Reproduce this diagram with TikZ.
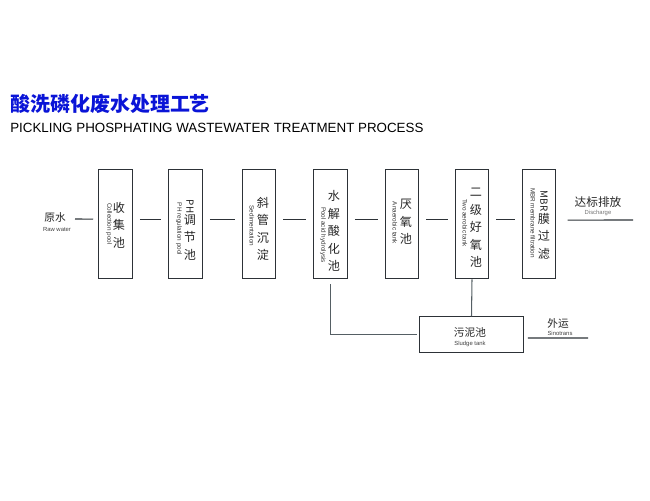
\documentclass[tikz,border=0pt]{standalone}
\usepackage{fontspec}
\setmainfont{Liberation Sans}
\newfontfamily\cjk{Noto Sans CJK SC}
\definecolor{titleblue}{RGB}{10,20,215}
\definecolor{boxline}{RGB}{45,50,55}
\definecolor{pipeline}{RGB}{85,95,100}
\tikzstyle{tank} = [draw=boxline,line width=0.75pt,minimum width=0.84cm,minimum height=2.74cm,inner sep=0pt]
\tikzstyle{sludgetank} = [draw=boxline,line width=0.75pt,minimum width=2.58cm,minimum height=0.88cm,inner sep=0pt]
\tikzstyle{cnlabel} = [inner sep=0pt,align=center,font=\cjk\fontsize{8.6}{12.4}\selectfont,text=black!85]
\tikzstyle{sidelabel} = [inner sep=0pt,align=center,font=\cjk\fontsize{7.6}{9}\selectfont,text=black!85]
\tikzstyle{enlabel} = [inner sep=0pt,font=\fontsize{4.5}{5}\selectfont,text=black!80,rotate=-90]
\tikzstyle{smalllabel} = [inner sep=0pt,font=\fontsize{4.2}{5}\selectfont,text=black!75]
\tikzstyle{link} = [draw=boxline,line width=0.75pt,shorten <=5pt,shorten >=5pt]
\tikzstyle{drain} = [draw=pipeline,line width=0.75pt]
\newcommand{\sidetext}[1]{\rotatebox{-90}{\fontsize{7}{8}\selectfont #1}}
\begin{document}
\begin{tikzpicture}[x=0.025cm,y=-0.025cm]
	\useasboundingbox (0,0) rectangle (650,500);
	
	\node[inner sep=0pt,anchor=west,text=titleblue,font=\cjk\bfseries\fontsize{14.2}{16}\selectfont] (title) at (10,104) {酸洗磷化废水处理工艺};
	\node[inner sep=0pt,anchor=west,font=\fontsize{9.5}{12}\selectfont] (subtitle) at (10,127.5) {PICKLING PHOSPHATING WASTEWATER TREATMENT PROCESS};
	
	\node[tank] (b1) at (115.5,224) {};
	\node[tank] (b2) at (185.5,224) {};
	\node[tank] (b3) at (259,224) {};
	\node[tank] (b4) at (330.5,224) {};
	\node[tank] (b5) at (402,224) {};
	\node[tank] (b6) at (472,224) {};
	\node[tank] (b7) at (539,224) {};
	\node[sludgetank] (b8) at (471.5,334.5) {};
	
	\node[sidelabel] (raw) at (55,217) {原水};
	\node[smalllabel] (rawen) at (57,229) {Raw water};
	\node[cnlabel] (t1) at (119,225) {收\\集\\池};
	\node[enlabel] (e1) at (109,224) {Collection pool};
	\node[cnlabel] (t2) at (190,230) {\sidetext{PH}\\调\\节\\池};
	\node[enlabel] (e2) at (179,229) {PH regulation pool};
	\node[cnlabel] (t3) at (263,229) {斜\\管\\沉\\淀};
	\node[enlabel] (e3) at (252,226) {Sedimentation};
	\node[cnlabel] (t4) at (334,231) {水\\解\\酸\\化\\池};
	\node[enlabel] (e4) at (323,235) {Pool acid hydrolysis};
	\node[cnlabel] (t5) at (406,222) {厌\\氧\\池};
	\node[enlabel] (e5) at (395,223) {Anaerobic tank};
	\node[cnlabel] (t6) at (476,228) {二\\级\\好\\氧\\池};
	\node[enlabel] (e6) at (465,223) {Two aerobic tank};
	\node[cnlabel] (t7) at (544,225) {\sidetext{MBR}\\膜\\过\\滤};
	\node[enlabel] (e7) at (533,223) {MBR membrane filtration};
	\node[sidelabel] (t8) at (470,332) {污泥池};
	\node[smalllabel] (e8) at (470,344) {Sludge tank};
	\node[sidelabel,font=\cjk\fontsize{8.3}{9}\selectfont] (t9) at (598,202) {达标排放};
	\node[smalllabel,text=black!55] (e9) at (598,213) {Discharge};
	\node[sidelabel] (t10) at (558,323) {外运};
	\node[smalllabel] (e10) at (560,333) {Sinotrans};
	
	\coordinate (rawend) at (75,219);
	\coordinate (dischargeend) at (633,220);
	\coordinate (sludgeend) at (588,338);
	
	\draw[link,shorten <=0pt,shorten >=3.5pt] (rawend) -- ([yshift=3.5pt]b1.west);
	\draw[link] ([yshift=3.5pt]b1.east) -- ([yshift=3.5pt]b2.west);
	\draw[link] ([yshift=3.5pt]b2.east) -- ([yshift=3.5pt]b3.west);
	\draw[link] ([yshift=3.5pt]b3.east) -- ([yshift=3.5pt]b4.west);
	\draw[link] ([yshift=3.5pt]b4.east) -- ([yshift=3.5pt]b5.west);
	\draw[link] ([yshift=3.5pt]b5.east) -- ([yshift=3.5pt]b6.west);
	\draw[link] ([yshift=3.5pt]b6.east) -- ([yshift=3.5pt]b7.west);
	\draw[link,shorten <=8pt,shorten >=0pt] ([yshift=2.8pt]b7.east) -- (dischargeend);
	\draw[drain,shorten <=3.5pt,shorten >=1.5pt] (b4.south) |- (b8.west);
	\draw[drain] (b6.south) -- (b8.north);
	\draw[link,shorten <=3pt,shorten >=0pt] ([yshift=-2.5pt]b8.east) -- (sludgeend);
\end{tikzpicture}
\end{document}
